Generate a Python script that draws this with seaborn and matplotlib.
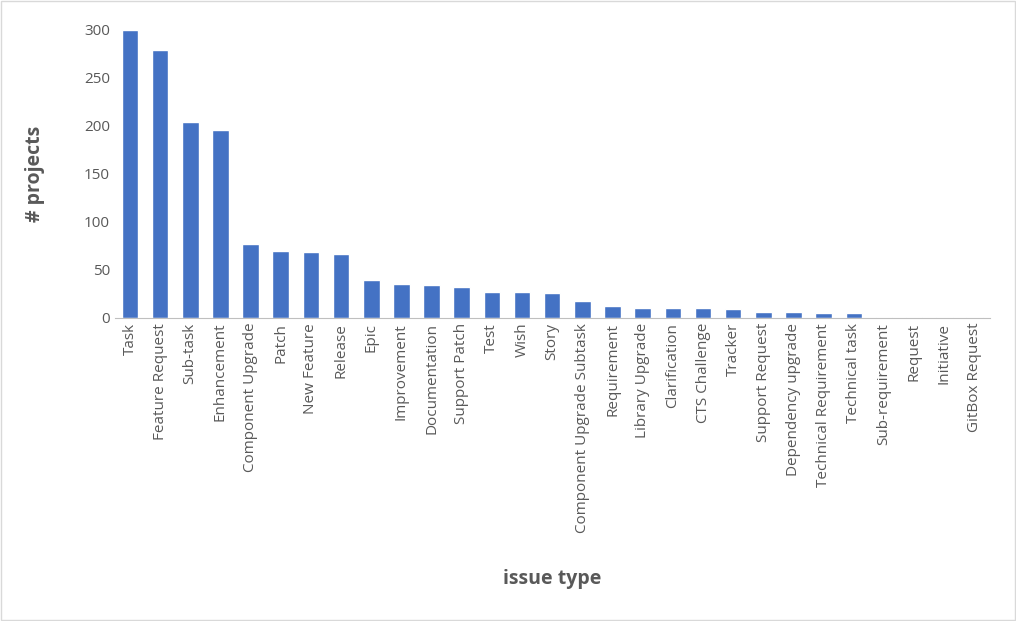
import matplotlib
matplotlib.use("Agg")
import matplotlib.pyplot as plt
import seaborn as sns
import pandas as pd

issue_types = ["Task", "Feature Request", "Sub-task", "Enhancement", "Component Upgrade",
               "Patch", "New Feature", "Release", "Epic", "Improvement", "Documentation",
               "Support Patch", "Test", "Wish", "Story", "Component Upgrade Subtask",
               "Requirement", "Library Upgrade", "Clarification", "CTS Challenge", "Tracker",
               "Support Request", "Dependency upgrade", "Technical Requirement",
               "Technical task", "Sub-requirement", "Request", "Initiative", "GitBox Request"]
projects = [300, 279, 204, 196, 77, 70, 69, 67, 40, 35, 34, 32, 27, 27, 26, 18,
            12, 10, 10, 10, 9, 6, 6, 5, 5, 1, 1, 1, 1]

data = pd.DataFrame({"issue type": issue_types, "# projects": projects})

sns.set_style("white")
plt.rcParams["font.family"] = ["Open Sans", "DejaVu Sans"]

fig = plt.figure(figsize=(10.16, 6.21), dpi=100)
ax = fig.add_axes([0.113, 0.488, 0.861, 0.464])
sns.barplot(x="issue type", y="# projects", data=data, color="#4472C4",
            width=0.55, saturation=1, ax=ax)
ax.set_ylim(0, 300)
ax.set_yticks(range(0, 301, 50))
ax.tick_params(axis="y", labelsize=11, colors="#595959", length=0)
ax.tick_params(axis="x", labelsize=11, colors="#595959", rotation=90, length=0)
for s in ["top", "right", "left"]:
    ax.spines[s].set_visible(False)
ax.spines["bottom"].set_color("#BFBFBF")
ax.set_xlabel("issue type", fontsize=14, fontweight="bold", color="#595959")
ax.xaxis.set_label_coords(0.5, -0.87)
ax.set_ylabel("# projects", fontsize=14, fontweight="bold", color="#595959")
ax.yaxis.set_label_coords(-0.08, 0.5)
fig.patches.append(plt.Rectangle((0.001, 0.001), 0.998, 0.997, transform=fig.transFigure,
                                 fill=False, edgecolor="#D9D9D9", linewidth=1))
fig.savefig("out.png", dpi=100)
